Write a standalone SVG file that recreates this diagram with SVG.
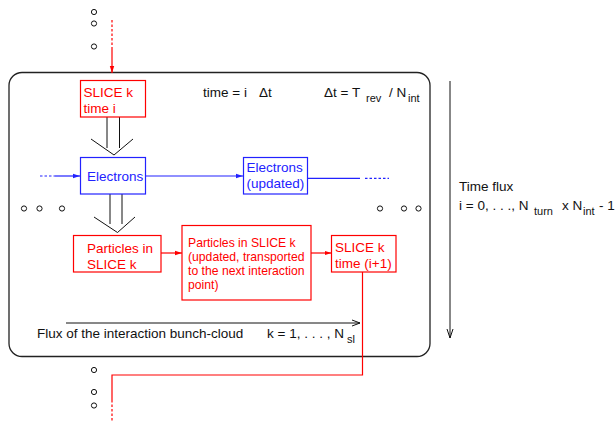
<svg xmlns="http://www.w3.org/2000/svg" width="615" height="422" viewBox="0 0 615 422">
<defs>
<marker id="ar" markerWidth="7" markerHeight="6" refX="7" refY="3" orient="auto" markerUnits="userSpaceOnUse"><path d="M0,0.8 L7,3 L0,5.2 Z" fill="#f00"/></marker>
<marker id="ab" markerWidth="7" markerHeight="6" refX="7" refY="3" orient="auto" markerUnits="userSpaceOnUse"><path d="M0,0.8 L7,3 L0,5.2 Z" fill="#22f"/></marker>
</defs>
<style>
text{font-family:"Liberation Sans",Arial,sans-serif;font-size:13.5px;fill:#111}
.r{fill:#f00}.b{fill:#22f}
.sm{font-size:12.2px}
.sub{font-size:11px}
.rb{fill:none;stroke:#f00;stroke-width:1.2}
.bb{fill:none;stroke:#22f;stroke-width:1.2}
.k{fill:none;stroke:#111;stroke-width:1}
.dot{fill:none;stroke:#111;stroke-width:1}
</style>
<rect x="9" y="72.5" width="421" height="284" rx="13" ry="13" fill="none" stroke="#222" stroke-width="1.3"/>
<g id="dots" class="dot">
<circle cx="94" cy="12" r="2.6"/><circle cx="94" cy="23.5" r="2.6"/><circle cx="94" cy="46.5" r="2.6"/>
<circle cx="24" cy="208.5" r="2.6"/><circle cx="39.5" cy="208.5" r="2.6"/><circle cx="62" cy="208.5" r="2.6"/>
<circle cx="380" cy="208.5" r="2.6"/><circle cx="404" cy="208.5" r="2.6"/><circle cx="418.5" cy="208.5" r="2.6"/>
<circle cx="94" cy="370" r="2.6"/><circle cx="94" cy="392" r="2.6"/><circle cx="94" cy="405.5" r="2.6"/>
</g>
<g id="connectors">
<line x1="112" y1="20" x2="112" y2="47" stroke="#f00" stroke-width="1.2" stroke-dasharray="2.5,2"/>
<line x1="112" y1="47" x2="112" y2="73" stroke="#f00" stroke-width="1.2" marker-end="url(#ar)"/>
<g class="k"><line x1="107" y1="117" x2="107" y2="148"/><line x1="119.5" y1="117" x2="119.5" y2="148"/><polyline points="91,139 114,155 133,139"/></g>
<g class="k"><line x1="110" y1="194" x2="110" y2="224"/><line x1="122" y1="194" x2="122" y2="224"/><polyline points="94,217 117.5,232.5 135,217"/></g>
<line x1="40" y1="176" x2="55" y2="176" stroke="#22f" stroke-width="1.2" stroke-dasharray="2.5,2"/>
<line x1="55" y1="176" x2="80" y2="176" stroke="#22f" stroke-width="1.2" marker-end="url(#ab)"/>
<line x1="146" y1="176" x2="243" y2="176" stroke="#22f" stroke-width="1.2" marker-end="url(#ab)"/>
<line x1="308" y1="178.3" x2="360" y2="178.3" stroke="#22f" stroke-width="1.2"/>
<line x1="365" y1="178.3" x2="389" y2="178.3" stroke="#22f" stroke-width="1.2" stroke-dasharray="2.5,2"/>
<line x1="161" y1="253" x2="182" y2="253" stroke="#f00" stroke-width="1.2" marker-end="url(#ar)"/>
<line x1="311" y1="253" x2="331.5" y2="253" stroke="#f00" stroke-width="1.2" marker-end="url(#ar)"/>
<polyline points="362.5,272 362.5,375 112,375 112,400" fill="none" stroke="#f00" stroke-width="1.2"/>
<line x1="112" y1="400" x2="112" y2="422" stroke="#f00" stroke-width="1.2" stroke-dasharray="2.5,2"/>
<g class="k"><line x1="66" y1="323" x2="360" y2="323"/><polyline points="352,320 360,323 352,326"/></g>
<g class="k"><line x1="450" y1="81" x2="450" y2="338"/><polyline points="447,329 450,338 453,329"/></g>
</g>
<g id="slice-top"><rect x="80.5" y="80.5" width="65" height="36.5" class="rb"/><text x="83.5" y="97" class="r">SLICE k</text><text x="83.5" y="113" class="r">time i</text></g>
<g id="electrons"><rect x="80.5" y="157.5" width="65" height="36.5" class="bb"/><text x="87" y="181" class="b">Electrons</text></g>
<g id="electrons-updated"><rect x="243.5" y="157.5" width="64" height="36.5" class="bb"/><text x="246.5" y="172" class="b">Electrons</text><text x="246.5" y="188" class="b">(updated)</text></g>
<g id="particles"><rect x="73.5" y="235.5" width="87.5" height="36.5" class="rb"/><text x="87" y="253" class="r">Particles in</text><text x="87" y="269" class="r">SLICE k</text></g>
<g id="particles-updated"><rect x="182" y="225.5" width="129" height="74.5" class="rb"/>
<text x="188" y="246.5" class="r sm">Particles in SLICE k</text>
<text x="188" y="261" class="r sm">(updated, transported</text>
<text x="188" y="275" class="r sm">to the next interaction</text>
<text x="188" y="288.5" class="r sm">point)</text></g>
<g id="slice-next"><rect x="331.5" y="235.5" width="64.5" height="36.5" class="rb"/><text x="335" y="252" class="r">SLICE k</text><text x="335" y="268" class="r">time (i+1)</text></g>
<g id="labels">
<text x="203" y="97">time = i</text><text x="259" y="97">Δt</text>
<text x="324" y="97">Δt = T</text><text x="366" y="102" class="sub">rev</text>
<text x="389" y="97">/ N</text><text x="408" y="102" class="sub">int</text>
<text x="37" y="338">Flux of the interaction bunch-cloud</text>
<text x="267" y="338">k = 1, . . . , N</text><text x="347" y="343" class="sub">sl</text>
<text x="459" y="191">Time flux</text>
<text x="459" y="210">i = 0, . . ., N</text><text x="534" y="215" class="sub">turn</text>
<text x="562" y="210">x N</text><text x="583" y="215" class="sub">int</text>
<text x="599" y="210">- 1</text>
</g>
</svg>
